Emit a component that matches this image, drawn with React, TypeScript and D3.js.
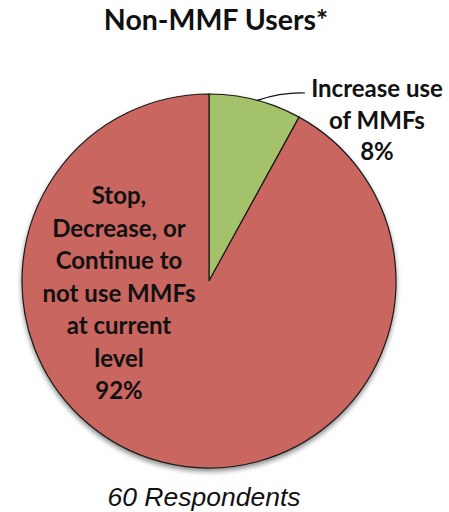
import React from "react";
import * as d3 from "d3";

const categories = ["Increase use of MMFs", "Stop, Decrease, or Continue to not use MMFs at current level"];
const shares = [8, 92];
const sliceColors = ["#A3C26B", "#C9665E"];
const greenLabelLines = ["Increase use", "of MMFs", "8%"];
const redLabelLines = ["Stop,", "Decrease, or", "Continue to", "not use MMFs", "at current", "level", "92%"];
const titleText = "Non-MMF Users*";
const footnoteText = "60 Respondents";

const W = 449;
const H = 512;
const cx = 209;
const cy = 281;
const radius = 187;

export default function App() {
  const pie = d3.pie<number>().sort(null).value((d) => d);
  const arcs = pie(shares);
  const arcGen = d3.arc<d3.PieArcDatum<number>>().innerRadius(0).outerRadius(radius);
  const labelFont = "Lato, 'Open Sans', sans-serif";

  // leader from the green slice's rim to its label
  const leaderAngle = (arcs[0].startAngle + arcs[0].endAngle) / 2 + 0.01;
  const lx0 = cx + Math.sin(leaderAngle) * radius;
  const ly0 = cy - Math.cos(leaderAngle) * radius;
  const leader = d3.path();
  leader.moveTo(lx0, ly0);
  leader.quadraticCurveTo(lx0 + 24, ly0 - 8, 305, 93);

  return (
    <svg
      width={W}
      height={H}
      style={{ position: "absolute", left: 0, top: 0, display: "block", background: "#fff" }}
    >
      <defs>
        <filter id="pieShadow" x="-20%" y="-20%" width="140%" height="140%">
          <feGaussianBlur in="SourceAlpha" stdDeviation="2.5" />
          <feOffset dx="0" dy="3" result="blur" />
          <feComponentTransfer>
            <feFuncA type="linear" slope="0.45" />
          </feComponentTransfer>
          <feMerge>
            <feMergeNode />
            <feMergeNode in="SourceGraphic" />
          </feMerge>
        </filter>
      </defs>
      <text
        x={216}
        y={30}
        textAnchor="middle"
        fontFamily={labelFont}
        fontWeight="bold"
        fontSize={28.5}
        fill="#111"
      >
        {titleText}
      </text>
      <g transform={`translate(${cx},${cy})`} filter="url(#pieShadow)">
        {arcs.map((a, i) => (
          <path
            key={categories[i]}
            d={arcGen(a) || ""}
            fill={sliceColors[i]}
            stroke="#1a1a1a"
            strokeWidth={1.2}
          />
        ))}
      </g>
      <path d={leader.toString()} fill="none" stroke="#111" strokeWidth={1.2} />
      <g fontFamily={labelFont} fontWeight="bold" fontSize={24} fill="#111" textAnchor="middle">
        {greenLabelLines.map((t, i) => (
          <text key={t} x={377} y={97 + i * 31.7}>
            {t}
          </text>
        ))}
        {redLabelLines.map((t, i) => (
          <text key={t} x={119} y={204 + i * 32.5}>
            {t}
          </text>
        ))}
      </g>
      <text
        x={204}
        y={506}
        textAnchor="middle"
        fontFamily="'Liberation Sans', Arial, sans-serif"
        fontStyle="italic"
        fontSize={26.5}
        fill="#111"
      >
        {footnoteText}
      </text>
    </svg>
  );
}
